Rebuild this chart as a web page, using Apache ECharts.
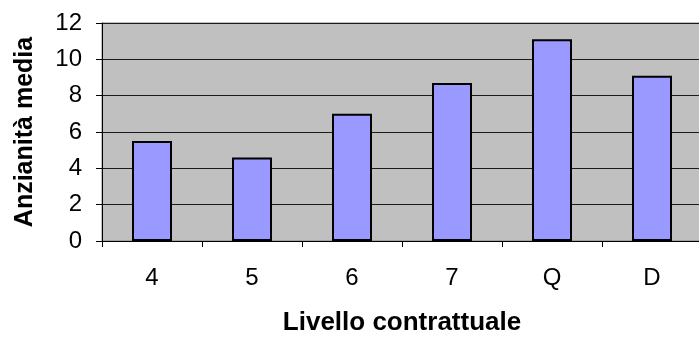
<!DOCTYPE html>
<html>
<head>
<meta charset="utf-8">
<script src="https://cdn.jsdelivr.net/npm/echarts@6/dist/echarts.min.js"></script>
<style>
  html, body { margin: 0; padding: 0; background: #ffffff; }
  #chart { width: 699px; height: 338px; }
</style>
</head>
<body>
<div id="chart"></div>
<script>
// Average seniority by contract level
const categories = ['4', '5', '6', '7', 'Q', 'D'];
const anzianita = [5.5, 4.6, 7.0, 8.7, 11.1, 9.1];
const yTicks = { min: 0, max: 12, interval: 2 };

const FONT = '"Liberation Sans", Arial, sans-serif';

const chart = echarts.init(document.getElementById('chart'), null, { renderer: 'canvas' });
chart.setOption({
  animation: false,
  backgroundColor: '#ffffff',
  grid: {
    left: 102, right: -3, top: 23, bottom: 97,
    outerBoundsMode: 'none',
    containLabel: false,
    show: true,
    backgroundColor: '#C0C0C0',
    borderColor: '#808080',
    borderWidth: 1
  },
  xAxis: {
    type: 'category',
    data: categories,
    name: 'Livello contrattuale',
    nameLocation: 'middle',
    nameGap: 69,
    nameTextStyle: { fontFamily: FONT, fontWeight: 'bold', fontSize: 26, color: '#000' },
    axisLine: { lineStyle: { color: '#000', width: 1 } },
    axisTick: { show: true, length: 6, lineStyle: { color: '#000' } },
    axisLabel: { margin: 25, fontFamily: FONT, fontSize: 24, color: '#000' },
    splitLine: { show: false }
  },
  yAxis: {
    type: 'value',
    min: yTicks.min, max: yTicks.max, interval: yTicks.interval,
    name: 'Anzianità media',
    nameLocation: 'middle',
    nameGap: 64,
    nameTextStyle: { fontFamily: FONT, fontWeight: 'bold', fontSize: 25, color: '#000' },
    axisLine: { show: true, lineStyle: { color: '#000', width: 1 } },
    axisTick: { show: true, length: 6, lineStyle: { color: '#000' } },
    axisLabel: { margin: 20, fontFamily: FONT, fontSize: 24, color: '#000' },
    splitLine: { show: true, lineStyle: { color: '#1a1a1a', width: 1 } }
  },
  series: [{
    type: 'bar',
    data: anzianita,
    barWidth: '40%',
    itemStyle: { color: '#9999FF', borderColor: '#000', borderWidth: 2 }
  }]
});
</script>
</body>
</html>
